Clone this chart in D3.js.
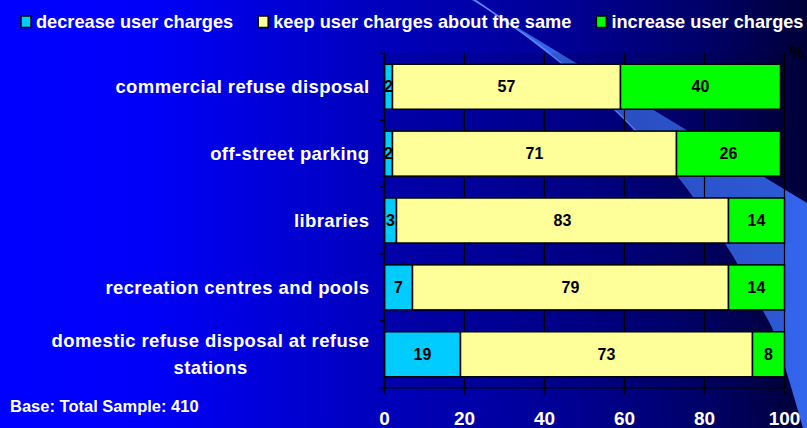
<!DOCTYPE html>
<html>
<head>
<meta charset="utf-8">
<script src="https://cdn.jsdelivr.net/npm/d3@7/dist/d3.min.js"></script>
<style>
  html, body { margin: 0; padding: 0; background: #0000ff; }
  svg { display: block; }
  text { font-family: "Liberation Sans", Arial, sans-serif; font-weight: bold; }
</style>
</head>
<body>
<svg id="chart" width="807" height="428"></svg>
<script>
// ---- data ----
const categories = [
  "commercial refuse disposal",
  "off-street parking",
  "libraries",
  "recreation centres and pools",
  "domestic refuse disposal at refuse|stations"
];
const seriesNames = ["decrease user charges", "keep user charges about the same", "increase user charges"];
const decreaseValues = [2, 2, 3, 7, 19];
const keepValues = [57, 71, 83, 79, 73];
const increaseValues = [40, 26, 14, 14, 8];
const xTickValues = [0, 20, 40, 60, 80, 100];
const baseNote = "Base: Total Sample: 410";
const unitLabel = "%";

// ---- styles ----
const colors = ["#00ccff", "#ffff99", "#00ff00"];
const W = 807, H = 428;
const plot = { left: 384.5, right: 784.5, top: 53.3, bottom: 387.7 };

const svg = d3.select("#chart");
const defs = svg.append("defs");

// background gradient
const bg = defs.append("linearGradient").attr("id", "bg").attr("x1", 0).attr("x2", 1).attr("y1", 0).attr("y2", 0);
[[0, "#0000ff"], [0.18, "#0000fa"], [0.45, "#0000c0"], [0.72, "#000090"], [0.88, "#000066"], [1, "#000038"]]
  .forEach(([o, c]) => bg.append("stop").attr("offset", o).attr("stop-color", c));
svg.append("rect").attr("width", W).attr("height", H).attr("fill", "url(#bg)");

// decorative swoosh
const sw = defs.append("linearGradient").attr("id", "sw").attr("x1", 0).attr("x2", 1).attr("y1", 0).attr("y2", 0);
[[0, "#3a6cf2"], [0.5, "#2f58d8"], [1, "#3366ee"]]
  .forEach(([o, c]) => sw.append("stop").attr("offset", o).attr("stop-color", c));
const leftEdge = [[466, -6], [532, 40], [560, 62], [615, 110], [635, 130], [677, 176], [693, 197],
  [724, 242], [737, 263], [762, 309], [773, 330], [785, 367], [803, 428], [806, 440]];
const line = d3.line().curve(d3.curveCatmullRom);
const swPath = line(leftEdge) + "L812,440L812,206L807,203L462,-6Z";
svg.append("path").attr("d", swPath).attr("fill", "url(#sw)");
svg.append("path").attr("d", line(leftEdge.slice(0, 6))).attr("fill", "none")
  .attr("stroke", "#5688ff").attr("stroke-width", 1.6);

// ---- scales ----
const x = d3.scaleLinear().domain([0, 100]).range([plot.left, plot.right]);
const y = d3.scaleBand().domain(categories).range([plot.top, plot.bottom])
  .paddingInner(0.327).paddingOuter(0.1635);

// plot area slight shade
svg.append("rect").attr("x", plot.left).attr("y", plot.top)
  .attr("width", plot.right - plot.left).attr("height", plot.bottom - plot.top)
  .attr("fill", "#000020").attr("opacity", 0.1);

// gridlines
svg.append("g").selectAll("line").data(xTickValues.filter(d => d > 0)).join("line")
  .attr("x1", d => x(d)).attr("x2", d => x(d))
  .attr("y1", plot.top).attr("y2", plot.bottom)
  .attr("stroke", "#000").attr("stroke-width", 1.2);

// stacked data
const rows = categories.map((c, i) => ({ cat: c, vals: [decreaseValues[i], keepValues[i], increaseValues[i]] }));
const segs = [];
rows.forEach(r => {
  let acc = 0;
  r.vals.forEach((v, k) => { segs.push({ cat: r.cat, k, v, x0: acc, x1: acc + v }); acc += v; });
});

const gBars = svg.append("g");
gBars.selectAll("rect").data(segs).join("rect")
  .attr("x", d => x(d.x0)).attr("width", d => x(d.x1) - x(d.x0))
  .attr("y", d => y(d.cat)).attr("height", y.bandwidth())
  .attr("fill", d => colors[d.k]).attr("stroke", "#000").attr("stroke-width", 1.5);

gBars.selectAll("text").data(segs).join("text")
  .attr("x", d => (x(d.x0) + x(d.x1)) / 2)
  .attr("y", d => y(d.cat) + y.bandwidth() / 2 + 5.6)
  .attr("text-anchor", "middle").attr("font-size", "16px").attr("fill", "#000")
  .text(d => d.v);

// y axis
const yAxisG = svg.append("g").attr("transform", `translate(${plot.left},0)`);
yAxisG.append("line").attr("x1", 0).attr("x2", 0).attr("y1", plot.top).attr("y2", plot.bottom)
  .attr("stroke", "#000").attr("stroke-width", 1.5);
const bounds = d3.range(categories.length + 1).map(i => plot.top + i * y.step());
yAxisG.selectAll("line.t").data(bounds).join("line").attr("class", "t")
  .attr("x1", -4.5).attr("x2", 0).attr("y1", d => d).attr("y2", d => d)
  .attr("stroke", "#000").attr("stroke-width", 1.5);

// x axis
const xAxisG = svg.append("g").attr("transform", `translate(0,${plot.bottom})`);
xAxisG.append("line").attr("x1", plot.left).attr("x2", plot.right).attr("y1", 0).attr("y2", 0)
  .attr("stroke", "#000").attr("stroke-width", 1.5);
xAxisG.selectAll("line.t").data(xTickValues).join("line").attr("class", "t")
  .attr("x1", d => x(d)).attr("x2", d => x(d)).attr("y1", 0).attr("y2", 6.5)
  .attr("stroke", "#000").attr("stroke-width", 1.5);
xAxisG.selectAll("text").data(xTickValues).join("text")
  .attr("x", d => x(d)).attr("y", 37.5).attr("text-anchor", "middle")
  .attr("font-size", "19px").attr("fill", "#fff").text(d => d);

// category labels
const labG = svg.append("g");
categories.forEach(c => {
  const lines = c.split("|");
  const cy = y(c) + y.bandwidth() / 2;
  const lh = 27.5;
  const t = labG.append("text").attr("font-size", "18.5px").attr("letter-spacing", "0.4px")
    .attr("fill", "#fff").attr("text-anchor", "middle");
  const tspans = lines.map((l, i) => t.append("tspan").text(l)
    .attr("y", cy + 6.3 + (i - (lines.length - 1) / 2) * lh));
  const maxW = d3.max(tspans, s => s.node().getComputedTextLength());
  const cx = 369.5 - maxW / 2;
  tspans.forEach(s => s.attr("x", cx));
});

// legend
const legG = svg.append("g");
let lx = 21;
seriesNames.forEach((n, k) => {
  legG.append("rect").attr("x", lx).attr("y", 16).attr("width", 10).attr("height", 11.5)
    .attr("fill", colors[k]).attr("stroke", "#000").attr("stroke-width", 1.5);
  const t = legG.append("text").attr("x", lx + 15).attr("y", 28).attr("font-size", "18.2px")
    .attr("fill", "#fff").text(n);
  lx += 15 + t.node().getComputedTextLength() + 25;
});

// notes
svg.append("text").attr("x", 10).attr("y", 411.5).attr("font-size", "16.5px")
  .attr("fill", "#fff").text(baseNote);
svg.append("text").attr("x", 790).attr("y", 58).attr("font-size", "16px")
  .attr("fill", "#000").text(unitLabel);
</script>
</body>
</html>
